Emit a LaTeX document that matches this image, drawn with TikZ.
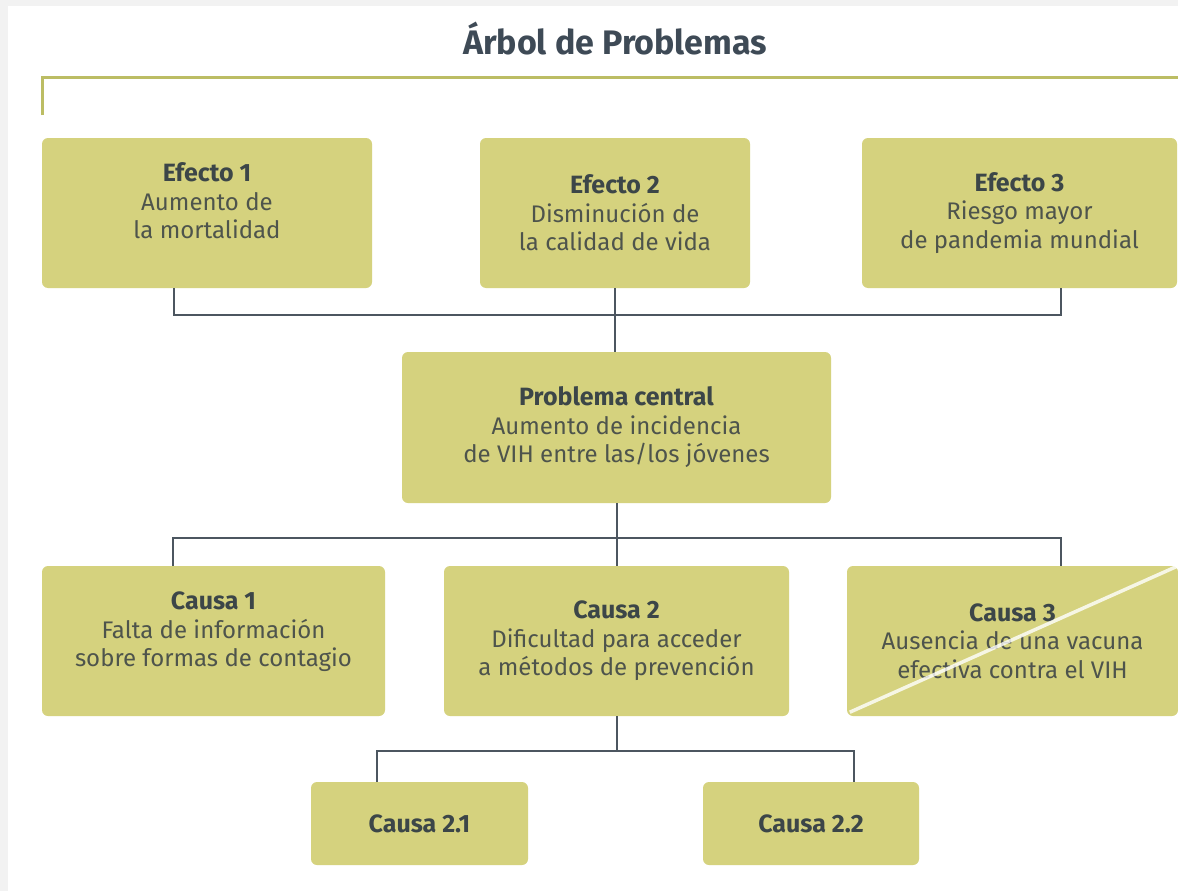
\documentclass[tikz,border=0pt]{standalone}
\usepackage{fontspec}
\setmainfont{Fira Sans}
\usetikzlibrary{positioning}
\definecolor{fondocaja}{RGB}{213,210,126}
\definecolor{cuerpo}{RGB}{78,84,76}
\definecolor{cabeza}{RGB}{60,70,72}
\definecolor{titular}{RGB}{62,74,86}
\definecolor{linea}{RGB}{76,86,96}
\definecolor{regla}{RGB}{188,189,100}
\definecolor{marco}{RGB}{242,242,242}
\tikzset{
  caja/.style={fill=fondocaja, rounded corners=6pt, inner sep=0pt, minimum height=150pt},
  texto/.style={align=center, text=cuerpo, inner sep=0pt, font=\fontsize{24}{28.5}\selectfont},
  conector/.style={draw=linea, line width=2pt},
}
\newcommand{\cab}[1]{{\fontsize{25}{28.5}\selectfont\bfseries\color{cabeza}#1}}
\begin{document}
\begin{tikzpicture}[x=1pt, y=-1pt]
  % fondo
  \fill[marco] (0,0) rectangle (1178,891);
  \fill[white] (8,6) rectangle (1178,891);
  \useasboundingbox (0,0) rectangle (1178,891);
  % titulo
  \node[anchor=base, text=titular, font=\fontsize{34}{36}\bfseries] (titulo) at (615,55) {Árbol de Problemas};
  \draw[regla, line width=3pt] (42,115) -- (42,78) -- (1178,78);
  % efectos
  \node[caja, minimum width=330pt] (e1) at (207,213) {};
  \node[caja, minimum width=270pt] (e2) at (615,213) {};
  \node[caja, minimum width=315pt] (e3) at (1019.5,213) {};
  \node[texto] (e1t) at ([yshift=12pt]e1.center) {\cab{Efecto 1}\\Aumento de\\la mortalidad};
  \node[texto] (e2t) at (e2.center) {\cab{Efecto 2}\\Disminución de\\la calidad de vida};
  \node[texto] (e3t) at (e3.center) {\cab{Efecto 3}\\Riesgo mayor\\de pandemia mundial};
  % problema central
  \node[caja, minimum width=429pt, minimum height=151pt] (pc) at (616.5,427.5) {};
  \node[texto] (pct) at (pc.center) {\cab{Problema central}\\Aumento de incidencia\\de VIH entre las/los jóvenes};
  % causas
  \node[caja, minimum width=343pt] (c1) at (213.5,641) {};
  \node[caja, minimum width=345pt] (c2) at (616.5,641) {};
  \node[caja, minimum width=331pt] (c3) at (1012.5,641) {};
  \node[texto] (c1t) at ([yshift=9pt]c1.center) {\cab{Causa 1}\\Falta de información\\sobre formas de contagio};
  \node[texto] (c2t) at (c2.center) {\cab{Causa 2}\\Dificultad para acceder\\a métodos de prevención};
  \node[texto] (c3t) at (c3.center) {\cab{Causa 3}\\Ausencia de una vacuna\\efectiva contra el VIH};
  \draw[white, opacity=0.8, line width=3.5pt] (c3.south west) ++(3,-4) -- (c3.north east);
  % subcausas
  \node[caja, minimum width=217pt, minimum height=83pt] (c21) at (419.5,823.5) {};
  \node[caja, minimum width=216pt, minimum height=83pt] (c22) at (811,823.5) {};
  \node[texto] (c21t) at (c21.center) {\cab{Causa 2.1}};
  \node[texto] (c22t) at (c22.center) {\cab{Causa 2.2}};
  % conectores
  \draw[conector] ([xshift=-33pt]e1.south) -- ++(0,27) -| ([xshift=41.5pt]e3.south);
  \draw[conector] (e2.south) -- (e2.south |- pc.north);
  \draw[conector] (pc.south) -- (c2.north);
  \draw[conector] ([xshift=-40.5pt]c1.north) -- ++(0,-28) -| ([xshift=48.5pt]c3.north);
  \draw[conector] (c2.south) -- ++(0,35);
  \draw[conector] ([xshift=-42.5pt]c21.north) -- ++(0,-31) -| ([xshift=43pt]c22.north);
\end{tikzpicture}
\end{document}
